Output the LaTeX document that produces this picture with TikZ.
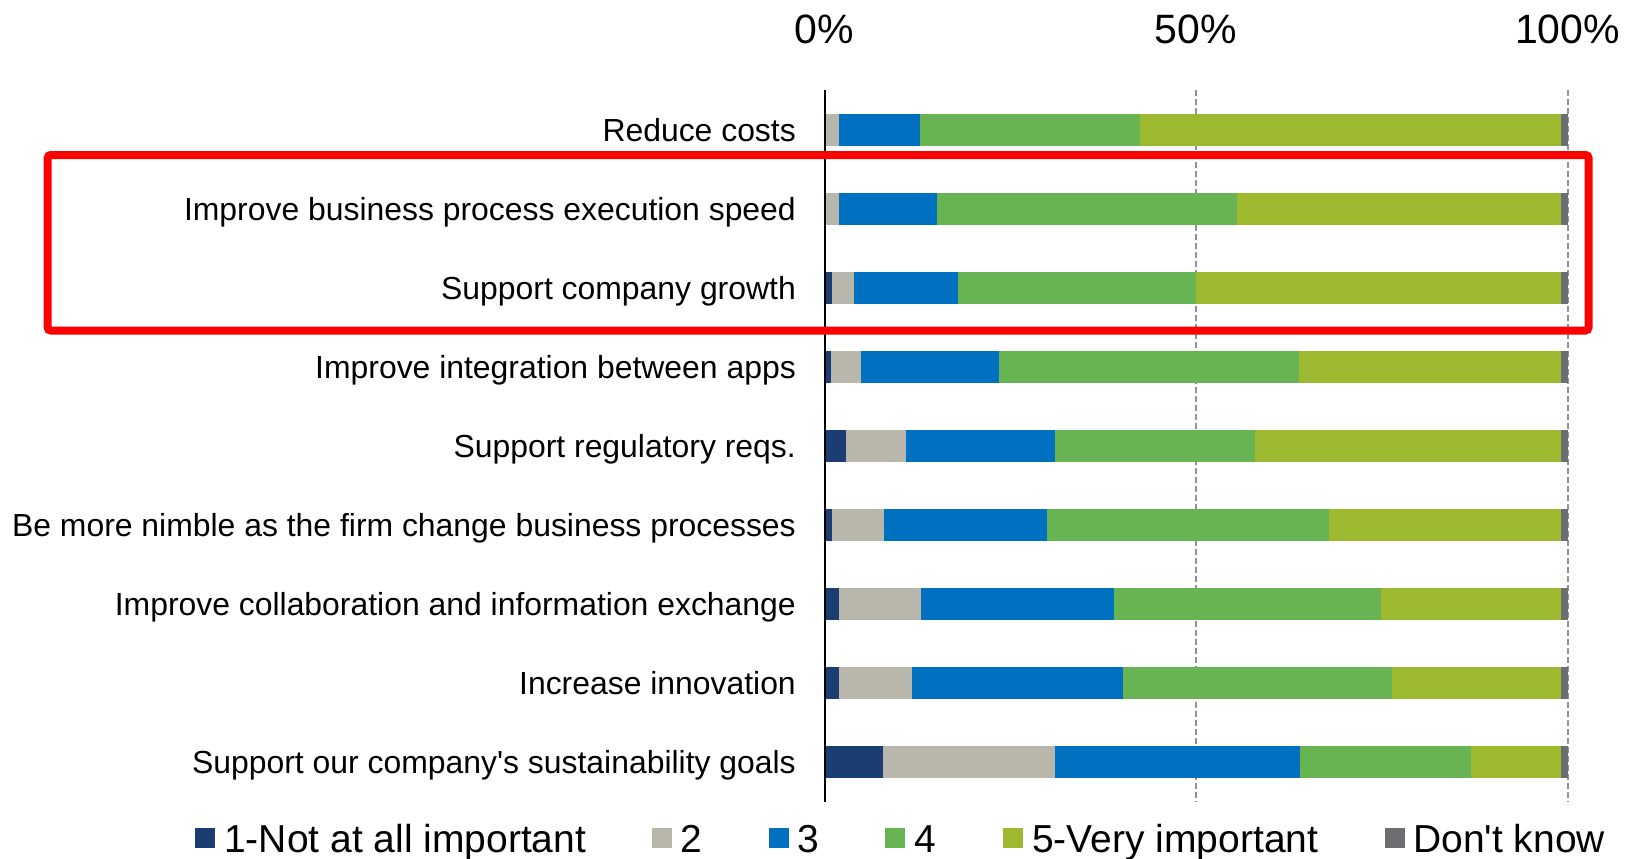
\documentclass[tikz,border=0pt]{standalone}
\usepackage{fontspec}
\setmainfont{Liberation Sans}
\usepackage{tikz}

\definecolor{navy}{HTML}{1C3D72}
\definecolor{stone}{HTML}{B9B7AB}
\definecolor{azure}{HTML}{0070C0}
\definecolor{leaf}{HTML}{69B452}
\definecolor{lime}{HTML}{9DB92F}
\definecolor{slate}{HTML}{6D6E71}

\tikzset{
    catlabel/.style={anchor=base east, inner sep=0pt, font=\fontsize{31.9bp}{36bp}\selectfont},
    pctlabel/.style={anchor=base, inner sep=0pt, font=\fontsize{41bp}{46bp}\selectfont},
    keybox/.style={minimum size=20bp, inner sep=0pt},
    keylabel/.style={anchor=base west, inner sep=0pt, font=\fontsize{39bp}{44bp}\selectfont},
    gridline/.style={gray!85, line width=2bp, dash pattern=on 6bp off 3bp},
}

\begin{document}
\begin{tikzpicture}[x=1bp, y=-1bp]
    \useasboundingbox (0,0) rectangle (1629,858);
    % scale on top
    \node[pctlabel] (p0)   at (824.5,43)  {0\%};
    \node[pctlabel] (p50)  at (1196,43)   {50\%};
    \node[pctlabel] (p100) at (1567.5,43) {100\%};
    \draw[gridline] (1196,90) -- (1196,802);
    \draw[gridline] (1567.5,90) -- (1567.5,802);
    % rows: cumulative ends of 1, 2, 3, 4, 5 (don't know up to 100)
    \foreach \i/\name/\a/\b/\c/\d/\e in {
        1/Reduce costs/0/2.0/12.9/42.5/99.1,
        2/Improve business process execution speed/0/2.0/15.1/55.5/99.1,
        3/Support company growth/1.0/4.0/18.0/50.0/99.1,
        4/Improve integration between apps/0.9/4.9/23.5/63.8/99.1,
        5/Support regulatory reqs./2.9/11.0/31.0/58.0/99.1,
        6/Be more nimble as the firm change business processes/1.0/8.0/29.9/67.9/99.1,
        7/Improve collaboration and information exchange/2.0/13.0/39.0/74.9/99.1,
        8/Increase innovation/2.0/11.8/40.2/76.4/99.1,
        9/Support our company\textquotesingle s sustainability goals/7.9/31.0/64.0/87.0/99.1}
    {
        \pgfmathsetmacro{\y}{130+79*(\i-1)}
        \begin{scope}[shift={(824.5,\y)}, x=7.43bp]
            \fill[navy]  (0,-15.75)  rectangle (\a,15.75);
            \fill[stone] (\a,-15.75) rectangle (\b,15.75);
            \fill[azure] (\b,-15.75) rectangle (\c,15.75);
            \fill[leaf]  (\c,-15.75) rectangle (\d,15.75);
            \fill[lime]  (\d,-15.75) rectangle (\e,15.75);
            \fill[slate] (\e,-15.75) rectangle (100,15.75);
        \end{scope}
        \node[catlabel] (lab\i) at (796,\y+11.3) {\name};
    }
    \draw[line width=2bp] (824.5,90) -- (824.5,802);
    % highlight
    \draw[red, line width=8bp, rounded corners=3bp] (47.7,155) rectangle (1588.5,330.5);
    % legend
    \node[keybox, fill=navy]  (key1) at (205,838)    {};
    \node[keylabel]           (leg1) at (224,852)    {1-Not at all important};
    \node[keybox, fill=stone] (key2) at (662,838)    {};
    \node[keylabel]           (leg2) at (680,852)    {2};
    \node[keybox, fill=azure] (key3) at (779,838)    {};
    \node[keylabel]           (leg3) at (797,852)    {3};
    \node[keybox, fill=leaf]  (key4) at (895,838)    {};
    \node[keylabel]           (leg4) at (914,852)    {4};
    \node[keybox, fill=lime]  (key5) at (1012.5,838) {};
    \node[keylabel]           (leg5) at (1032,852)   {5-Very important};
    \node[keybox, fill=slate] (key6) at (1395,838)   {};
    \node[keylabel]           (leg6) at (1413,852)   {Don\textquotesingle t know};
\end{tikzpicture}
\end{document}
